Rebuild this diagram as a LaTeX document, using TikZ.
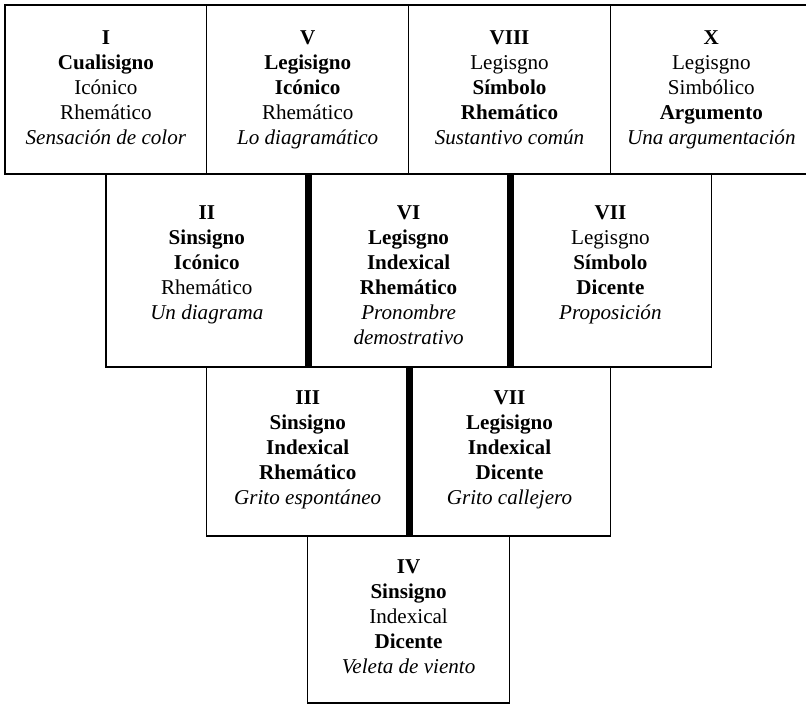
\documentclass[tikz,border=0pt]{standalone}
\usepackage{fontspec}
\setmainfont{Liberation Serif}

\tikzset{
  cell/.style={draw, line width=0.9pt, minimum width=5.045cm, inner sep=0pt},
  signo/.style={anchor=north, align=center, inner sep=0pt, font=\fontsize{15}{17.8}\selectfont},
  divider/.style={line width=5pt}
}

\begin{document}
\begin{tikzpicture}[x=0.025cm, y=-0.025cm]
\useasboundingbox (0,0) rectangle (806,704);

% Row 1
\foreach \n/\k in {I/1, V/3, VIII/5, X/7} {
    \node[cell, minimum height=4.225cm] (\n) at (5+100.9*\k, 89.5) {};
}
\node[signo] (tI) at ([yshift=-18.5pt]I.north)
    {\textbf{I}\\ \textbf{Cualisigno}\\ Icónico\\ Rhemático\\ \textit{Sensación de color}};
\node[signo] (tV) at ([yshift=-18.5pt]V.north)
    {\textbf{V}\\ \textbf{Legisigno}\\ \textbf{Icónico}\\ Rhemático\\ \textit{Lo diagramático}};
\node[signo] (tVIII) at ([yshift=-18.5pt]VIII.north)
    {\textbf{VIII}\\ Legisgno\\ \textbf{Símbolo}\\ \textbf{Rhemático}\\ \textit{Sustantivo común}};
\node[signo] (tX) at ([yshift=-18.5pt]X.north)
    {\textbf{X}\\ Legisgno\\ Simbólico\\ \textbf{Argumento}\\ \textit{Una argumentación}};

% Row 2
\foreach \n/\k in {II/2, VI/4, IX/6} {
    \node[cell, minimum height=4.825cm] (\n) at (5+100.9*\k, 270.5) {};
}
\node[signo] (tII) at ([yshift=-22.8pt]II.north)
    {\textbf{II}\\ \textbf{Sinsigno}\\ \textbf{Icónico}\\ Rhemático\\ \textit{Un diagrama}};
\node[signo] (tVI) at ([yshift=-22.8pt]VI.north)
    {\textbf{VI}\\ \textbf{Legisgno}\\ \textbf{Indexical}\\ \textbf{Rhemático}\\ \textit{Pronombre}\\ \textit{demostrativo}};
\node[signo] (tIX) at ([yshift=-22.8pt]IX.north)
    {\textbf{VII}\\ Legisgno\\ \textbf{Símbolo}\\ \textbf{Dicente}\\ \textit{Proposición}};

% Row 3
\foreach \n/\k in {III/3, VII/5} {
    \node[cell, minimum height=4.225cm] (\n) at (5+100.9*\k, 451.5) {};
}
\node[signo] (tIII) at ([yshift=-17pt]III.north)
    {\textbf{III}\\ \textbf{Sinsigno}\\ \textbf{Indexical}\\ \textbf{Rhemático}\\ \textit{Grito espontáneo}};
\node[signo] (tVII) at ([yshift=-17pt]VII.north)
    {\textbf{VII}\\ \textbf{Legisigno}\\ \textbf{Indexical}\\ \textbf{Dicente}\\ \textit{Grito callejero}};

% Row 4
\node[cell, minimum height=4.175cm] (IV) at (5+100.9*4, 619.5) {};
\node[signo] (tIV) at ([yshift=-17pt]IV.north)
    {\textbf{IV}\\ \textbf{Sinsigno}\\ Indexical\\ \textbf{Dicente}\\ \textit{Veleta de viento}};

% Thick dividers
\draw[divider] (II.north east) -- (II.south east);    % II | VI
\draw[divider] (VI.north east) -- (VI.south east);    % VI | VII
\draw[divider] (III.north east) -- (III.south east);  % III | VII
\end{tikzpicture}
\end{document}
